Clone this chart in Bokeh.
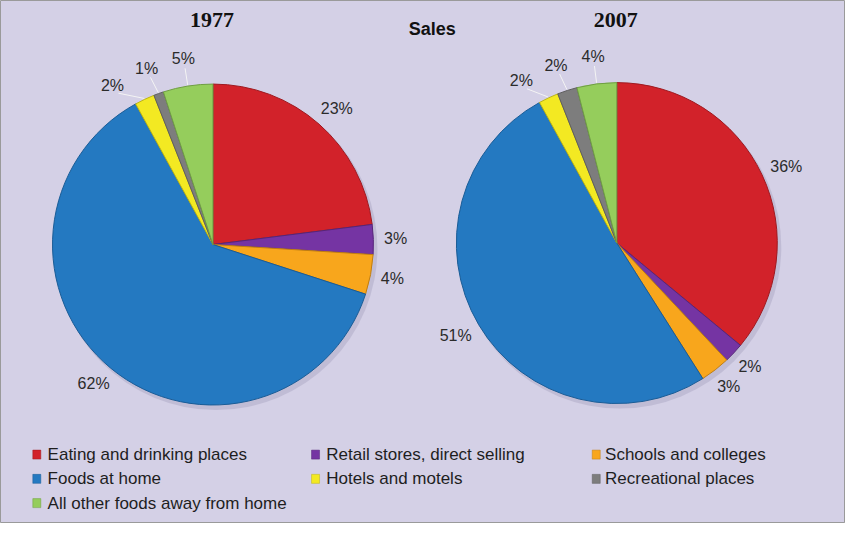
import numpy as np
from bokeh.plotting import figure
from bokeh.models import Range1d, ColumnDataSource
from bokeh.core.properties import value
from bokeh.embed import file_html
from bokeh.resources import INLINE

# ---------------- data ----------------
categories = [
    "Eating and drinking places",
    "Retail stores, direct selling",
    "Schools and colleges",
    "Foods at home",
    "Hotels and motels",
    "Recreational places",
    "All other foods away from home",
]
colors = ["#D2222A", "#7534A3", "#F8A61C", "#2479C1", "#F3E922", "#7D7D7D", "#95CD5C"]
edge_colors = ["#9E1A20", "#56267A", "#C07E12", "#1A5C96", "#BDB515", "#5E5E5E", "#6F9E43"]
share_1977 = [23, 3, 4, 62, 2, 1, 5]
share_2007 = [36, 2, 3, 51, 2, 2, 4]
years = ["1977", "2007"]
chart_title = "Sales"

# ---------------- layout ----------------
W, H = 845, 523
SX, SY = W / 861.0, H / 539.0
BG = "#D4D0E6"

def px(x):
    return x * SX

def py(y):
    return H - y * SY

p = figure(width=W, height=H, x_range=Range1d(0, W), y_range=Range1d(0, H),
           output_backend="svg", toolbar_location=None, min_border=0)
p.xaxis.visible = False
p.yaxis.visible = False
p.grid.visible = False
p.background_fill_color = BG
p.border_fill_color = BG
p.outline_line_color = "#9A9A9A"

centers = [(px(216.5), py(251.5)), (px(628), py(250))]
R = 163.5 * SX
LABEL_FONT = value("Liberation Sans")
MIN_SEP = np.deg2rad(11.5)

for (cx, cy), shares, year in zip(centers, [share_1977, share_2007], years):
    v = np.array(shares, dtype=float)
    frac = v / v.sum()
    c1 = np.cumsum(frac)
    c0 = c1 - frac
    start = np.pi / 2 - 2 * np.pi * c0
    end = np.pi / 2 - 2 * np.pi * c1
    src = ColumnDataSource(dict(start=start, end=end, color=colors, edge=edge_colors))
    # soft shadow
    p.circle(x=cx + 3, y=cy - 4, radius=R + 1, fill_color="#A9A4C2", fill_alpha=0.45, line_color=None)
    p.wedge(x=cx, y=cy, radius=R, start_angle="start", end_angle="end", direction="clock",
            fill_color="color", line_color="edge", line_width=1, source=src)

    # labels (clockwise angle from top)
    theta = 2 * np.pi * (c0 + c1) / 2
    n = len(theta)
    small_top = [(np.cos(theta[i]) > 0.85) and frac[i] < 0.06 for i in range(n)]
    lab_theta = theta.copy()
    # spread crowded small labels counterclockwise
    for i in range(n - 2, -1, -1):
        if small_top[i] and small_top[i + 1] and lab_theta[i + 1] - lab_theta[i] < MIN_SEP:
            lab_theta[i] = lab_theta[i + 1] - MIN_SEP
    lx, ly, txt = [], [], []
    for i in range(n):
        t = lab_theta[i]
        s, c = np.sin(t), np.cos(t)
        label = f"{shares[i]}%"
        d = 20 if small_top[i] else 13
        hw = len(label) * 4.6
        hh = 7.5
        lx.append(cx + (R + d) * s + hw * s)
        ly.append(cy + (R + d) * c + hh * c)
        txt.append(label)
        if small_top[i]:
            s0, c0_ = np.sin(theta[i]), np.cos(theta[i])
            p.line(x=[cx + (R + 1) * s0, cx + (R + d - 2) * s],
                   y=[cy + (R + 1) * c0_, cy + (R + d - 2) * c],
                   line_color="#F4F4F4", line_width=1)
    p.text(x=lx, y=ly, text=txt, text_font=LABEL_FONT, text_font_size="16px",
           text_color="#2B2B2B", text_align="center", text_baseline="middle")

    # year title
    p.text(x=[cx - 1], y=[py(20)], text=[year], text_font=value("Liberation Serif"),
           text_font_style="bold", text_font_size="22px", text_color="#111111",
           text_align="center", text_baseline="middle")

p.text(x=[px(440)], y=[py(29)], text=[chart_title], text_font=value("Liberation Sans"),
       text_font_style="bold", text_font_size="18px", text_color="#111111",
       text_align="center", text_baseline="middle")

# legend
col_sq = [37, 321, 607]
col_tx = [48, 332, 616]
rows = [468, 493, 518]
sq_x, sq_y, tx_x, tx_y = [], [], [], []
for i, name in enumerate(categories):
    r, cidx = divmod(i, 3)
    sq_x.append(px(col_sq[cidx]))
    sq_y.append(py(rows[r]))
    tx_x.append(px(col_tx[cidx]))
    tx_y.append(py(rows[r]))
p.rect(x=sq_x, y=sq_y, width=8, height=9, fill_color=colors, line_color=edge_colors, line_width=0.5)
p.text(x=tx_x, y=tx_y, text=categories, text_font=value("Liberation Sans"), text_font_size="17px",
       text_color="#1E1E1E", text_align="left", text_baseline="middle")

open("out.html", "w").write(file_html(p, INLINE))
